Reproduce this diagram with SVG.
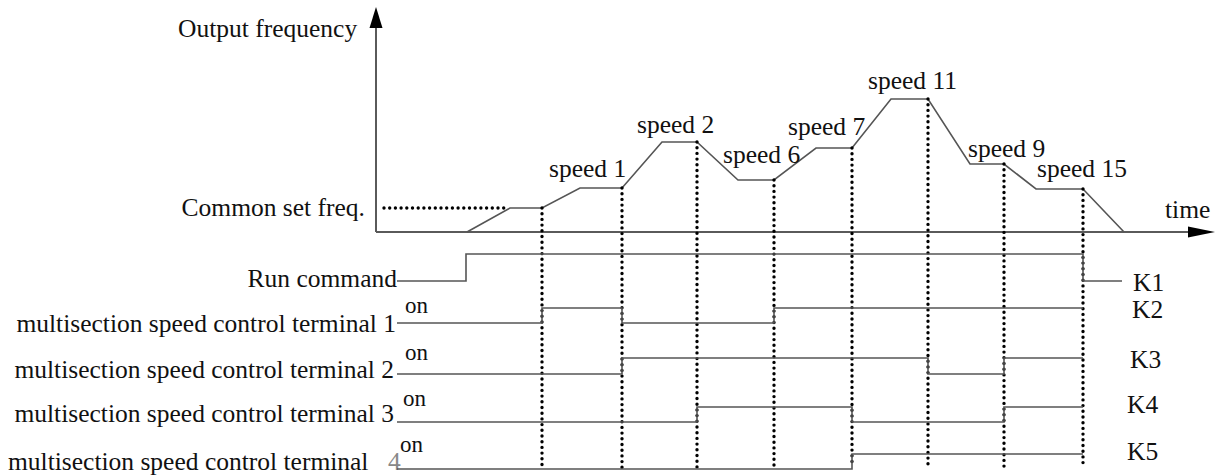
<svg xmlns="http://www.w3.org/2000/svg" width="1217" height="475" viewBox="0 0 1217 475">
  <style>
    text { font-family: "Liberation Serif", Tinos, "DejaVu Serif", serif; fill: #111; }
    .lbl { font-size: 25.5px; }
    .on { font-size: 23px; }
    .axis { stroke: #5a5a5a; stroke-width: 2; fill: none; }
    .wave { stroke: #555; stroke-width: 1.6; fill: none; stroke-linejoin: miter; }
    .dots { stroke: #000; stroke-width: 3.4; stroke-linecap: round; stroke-dasharray: 0 5.7; fill: none; }
    .head { fill: #000; }
  </style>

  <rect width="1217" height="475" fill="#fff"/>

  <!-- axes -->
  <g id="axes">
    <line class="axis" x1="376" y1="26" x2="376" y2="232"/>
    <line class="axis" x1="376" y1="232" x2="1192" y2="232"/>
    <polygon class="head" points="376,7 382.5,28 369.5,28"/>
    <polygon class="head" points="1215,232 1188,226.5 1188,237.5"/>
    <text class="lbl" x="178" y="37">Output frequency</text>
    <text class="lbl" x="1165" y="218">time</text>
    <text class="lbl" x="365" y="216" text-anchor="end">Common set freq.</text>
  </g>

  <!-- output frequency profile -->
  <g id="frequency-curve">
    <polyline class="wave" points="467,232 510,208 542,208 580,188 622,188 662,142 697,142 738,180 774,180 816,148 852,148 891,99 928,99 970,164 1004,164 1036,189 1083,189 1124,232"/>
    <text class="lbl" x="549" y="177">speed 1</text>
    <text class="lbl" x="637" y="133">speed 2</text>
    <text class="lbl" x="723" y="163">speed 6</text>
    <text class="lbl" x="788" y="135">speed 7</text>
    <text class="lbl" x="868" y="89">speed 11</text>
    <text class="lbl" x="968" y="157">speed 9</text>
    <text class="lbl" x="1037" y="177">speed 15</text>
  </g>

  <!-- connectors: dotted reference lines -->
  <g id="connectors">
    <line class="dots" x1="384" y1="208" x2="508" y2="208"/>
    <line class="dots" x1="542" y1="208" x2="542" y2="467"/>
    <line class="dots" x1="622" y1="188" x2="622" y2="469"/>
    <line class="dots" x1="697" y1="142" x2="697" y2="470"/>
    <line class="dots" x1="774" y1="180" x2="774" y2="467"/>
    <line class="dots" x1="852" y1="148" x2="852" y2="467"/>
    <line class="dots" x1="928" y1="99" x2="928" y2="465"/>
    <line class="dots" x1="1004" y1="164" x2="1004" y2="469"/>
    <line class="dots" x1="1083" y1="189" x2="1083" y2="465"/>
  </g>

  <!-- run command -->
  <g id="run-command">
    <text class="lbl" x="397" y="287" text-anchor="end">Run command</text>
    <polyline class="wave" points="397,281 466,281 466,254 1083,254 1083,281 1122,281"/>
    <text class="lbl" x="1133" y="291">K1</text>
  </g>

  <!-- terminal 1 -->
  <g id="terminal-1">
    <text class="lbl" x="396" y="332" text-anchor="end">multisection speed control terminal 1</text>
    <text class="on" x="405" y="313">on</text>
    <polyline class="wave" points="397,323 542,323 542,308 622,308 622,323 774,323 774,308 1083,308"/>
    <text class="lbl" x="1132" y="318">K2</text>
  </g>

  <!-- terminal 2 -->
  <g id="terminal-2">
    <text class="lbl" x="394" y="378" text-anchor="end">multisection speed control terminal 2</text>
    <text class="on" x="405" y="360">on</text>
    <polyline class="wave" points="397,374 622,374 622,358 928,358 928,374 1004,374 1004,358 1083,358"/>
    <text class="lbl" x="1130" y="368">K3</text>
  </g>

  <!-- terminal 3 -->
  <g id="terminal-3">
    <text class="lbl" x="394" y="422" text-anchor="end">multisection speed control terminal 3</text>
    <text class="on" x="403" y="406">on</text>
    <polyline class="wave" points="397,422 697,422 697,407 852,407 852,422 1004,422 1004,407 1083,407"/>
    <text class="lbl" x="1127" y="413">K4</text>
  </g>

  <!-- terminal 4 -->
  <g id="terminal-4">
    <text class="lbl" x="8" y="470">multisection speed control terminal <tspan x="388" fill="#888">4</tspan></text>
    <text class="on" x="400" y="452">on</text>
    <polyline class="wave" points="397,469 852,469 852,454 1083,454"/>
    <text class="lbl" x="1127" y="460">K5</text>
  </g>
</svg>
